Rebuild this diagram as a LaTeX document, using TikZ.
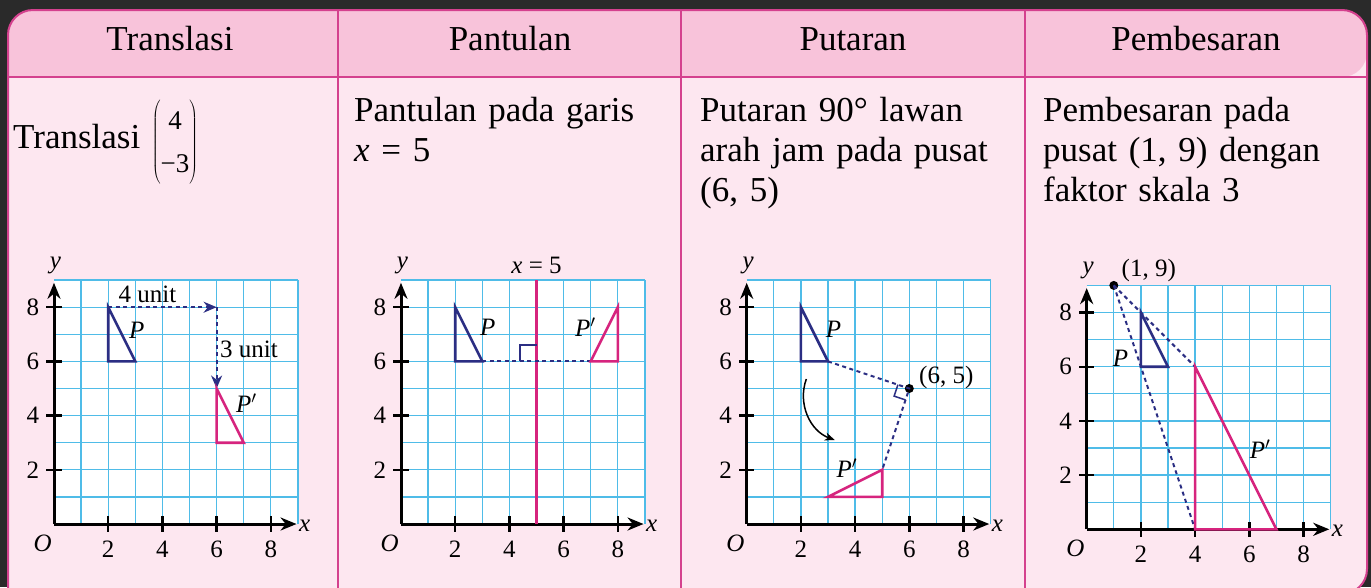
\documentclass[tikz,border=0pt]{standalone}
\usepackage{fontspec}
\setmainfont{Liberation Serif}
\usepackage{tikz}
\usetikzlibrary{positioning, calc, arrows.meta}
\newlength{\Unit}
\setlength\Unit{27.1pt}
\renewcommand{\arraystretch}{1.08}
\definecolor{navy}{HTML}{2B2E83}
\definecolor{rose}{HTML}{D6247E}
\definecolor{gridblue}{HTML}{4FBCE8}
\definecolor{headpink}{HTML}{F8C3DA}
\definecolor{bodypink}{HTML}{FDE7F0}
\definecolor{edgepink}{HTML}{D4418E}
\definecolor{backdrop}{HTML}{2A2A2A}

\begin{document}
\begin{tikzpicture}[
    x = 1pt, y = -1pt, > = {Stealth[]},
    head/.style = {
      font = \fontsize{35}{40}\selectfont, inner sep = 0pt, anchor = base
    },
    body/.style = {
      font = \fontsize{35}{40}\selectfont, inner sep = 0pt,
      anchor = base west, text width = 320pt, align = left
    },
    panel/.style 2 args = {
      shift = {(#1,#2)}, x = \Unit, y = \Unit
    },
    gridline/.style = {
      draw = gridblue, line width = 1.3pt
    },
    axis/.style = {
      line width = 3pt, -{Stealth[length = 16pt, width = 13pt]}
    },
    tickmark/.style = {
      line width = 2.4pt
    },
    num/.style = {
      font = \fontsize{25}{29}\selectfont, inner sep = 0pt
    },
    object/.style = {
      draw = navy, line width = 2.6pt
    },
    imagetri/.style = {
      draw = rose, line width = 2.6pt
    },
    guide/.style = {
      draw = navy, line width = 2pt, dash pattern = on 4pt off 3.5pt,
      > = {Stealth[length = 13pt, width = 11pt]}
    },
    centre/.style = {
      circle, fill = black, inner sep = 0pt, minimum size = 9pt
    },
    ]

    % frame of the table
    \useasboundingbox  (0,0)  rectangle  (1371,587);
    \clip  (0,0)  rectangle  (1371,587);
    \fill  [backdrop]  (0,0)  rectangle  (1371,587);
    \fill  [bodypink]  (8,594)  [rounded corners = 25pt]  -- (8,10) -- (1367,10) -- (1367,594) -- (600,594)  [sharp corners]  -- cycle;
    \fill  [headpink]  (8,77)  [rounded corners = 25pt]  -- (8,10) -- (1367,10) -- (1367,77)  [sharp corners]  -- cycle;
    \draw  [edgepink, line width = 2pt]  (8,594)  [rounded corners = 25pt]  -- (8,10) -- (1367,10) -- (1367,594) -- (600,594)  [sharp corners]  -- cycle;
    \draw  [edgepink, line width = 2pt]  (8,77) -- (1367,77);
    \foreach \c in {338, 681, 1025}
    \draw  [edgepink, line width = 2pt]  (\c,10) -- (\c,600);

    % headers
    \node  [head]  (h1)  at  (170,50.7)  {Translasi};
    \node  [head]  (h2)  at  (510,50.7)  {Pantulan};
    \node  [head]  (h3)  at  (853,50.7)  {Putaran};
    \node  [head]  (h4)  at  (1196,50.7)  {Pembesaran};

    % descriptions
    \node  [body]  (t1)  at  (13,148.3)  {Translasi $\left(\begin{array}{@{}c@{}}\mbox{\fontsize{27}{30}\selectfont 4}\\ \mbox{\fontsize{27}{30}\selectfont −3}\end{array}\right)$};
    \node  [body]  (t2)  at  (354,121.7)  {Pantulan pada garis\\ \textit{x} = 5};
    \node  [body]  (t3)  at  (700,121.7)  {Putaran 90° lawan\\ arah jam pada pusat\\ (6, 5)};
    \node  [body]  (t4)  at  (1043,121.7)  {Pembesaran pada\\ pusat (1, 9) dengan\\ faktor skala 3};

    % draw the four grids with axes
    \foreach \i/\ox/\oy in {1/54/524, 2/401/524, 3/746.7/524, 4/1086.7/529.3} {
      \begin{scope}[panel = {\ox}{\oy}]
        \fill  [white]  (0,0)  rectangle  (9,9);
        \foreach \k in {1, ..., 9} {
          \draw  [gridline]  (\k,0) -- (\k,9);
          \draw  [gridline]  (0,\k) -- (9,\k);
        }
        \coordinate  (O\i)  at  (0,0);
        \coordinate  (xend\i)  at  (8.95,0);
        \coordinate  (yend\i)  at  (0,8.9);
        \draw  [axis]  (O\i) -- (xend\i);
        \draw  [axis]  (O\i) -- (yend\i);
        \foreach \k in {2, 4, 6, 8} {
          \draw  [tickmark]  (\k,-0.28) -- (\k,0.28);
          \draw  [tickmark]  (-0.28,\k) -- (0.28,\k);
          \node  [num]  (xn\i\k)  at  (\k,-0.92)  {\k};
          \node  [num]  (yn\i\k)  at  (-0.78,\k)  {\k};
        }
        \node  [num]  (o\i)  at  (-0.42,-0.7)  {\textit{O}};
        \node  [num]  (xl\i)  at  (9.25,-0.05)  {\textit{x}};
        \node  [num]  (yl\i)  at  (0.05,9.55)  {\textit{y}};
      \end{scope}
    }

    % translation
    \begin{scope}[panel = {54}{524}]
      \coordinate  (a1)  at  (2,8);
      \coordinate  (b1)  at  (2,6);
      \coordinate  (c1)  at  (3,6);
      \coordinate  (pa1)  at  (6,5);
      \coordinate  (pb1)  at  (6,3);
      \coordinate  (pc1)  at  (7,3);
      \coordinate  (bend1)  at  (6,8);
      \draw  [guide, ->]  (a1) -- (bend1);
      \draw  [guide, ->]  (bend1) -- (pa1);
      \draw  [object]  (a1) -- (b1) -- (c1) -- cycle;
      \draw  [imagetri]  (pa1) -- (pb1) -- (pc1) -- cycle;
      \node  [num]  (u4)  at  (3.45,8.48)  {4 unit};
      \node  [num, anchor = west]  (u3)  at  (6.12,6.45)  {3 unit};
      \node  [num]  (P1)  at  (3.05,7.15)  {\textit{P}};
      \node  [num]  (Q1)  at  (7.1,4.45)  {\textit{P}$'$};
    \end{scope}

    % reflection
    \begin{scope}[panel = {401}{524}]
      \coordinate  (a2)  at  (2,8);
      \coordinate  (b2)  at  (2,6);
      \coordinate  (c2)  at  (3,6);
      \coordinate  (pa2)  at  (8,8);
      \coordinate  (pb2)  at  (8,6);
      \coordinate  (pc2)  at  (7,6);
      \coordinate  (m2a)  at  (5,0);
      \coordinate  (m2b)  at  (5,9);
      \coordinate  (foot2)  at  (5,6);
      \draw  [draw = rose, line width = 2.6pt]  (m2a) -- (m2b);
      \draw  [guide]  (c2) -- (pc2);
      \draw  [draw = navy, line width = 1.5pt]  ($(foot2)+(-0.6,0)$) -- ($(foot2)+(-0.6,0.6)$) -- ($(foot2)+(0,0.6)$);
      \draw  [object]  (a2) -- (b2) -- (c2) -- cycle;
      \draw  [imagetri]  (pa2) -- (pb2) -- (pc2) -- cycle;
      \node  [num]  (eq2)  at  (5,9.55)  {\textit{x} = 5};
      \node  [num]  (P2)  at  (3.2,7.25)  {\textit{P}};
      \node  [num]  (Q2)  at  (6.8,7.25)  {\textit{P}$'$};
    \end{scope}

    % rotation
    \begin{scope}[panel = {746.7}{524}]
      \coordinate  (a3)  at  (2,8);
      \coordinate  (b3)  at  (2,6);
      \coordinate  (c3)  at  (3,6);
      \coordinate  (pa3)  at  (3,1);
      \coordinate  (pb3)  at  (5,1);
      \coordinate  (pc3)  at  (5,2);
      \node  [centre]  (cen3)  at  (6,5)  {};
      \coordinate  (r3a)  at  ($(cen3)!0.14!(c3)$);
      \coordinate  (r3b)  at  ($(cen3)!0.14!(pc3)$);
      \draw  [guide]  (c3) -- (cen3.center) -- (pc3);
      \draw  [draw = navy, line width = 1.5pt]  (r3a) -- ($(r3a)+(r3b)-(cen3)$) -- (r3b);
      \draw  [object]  (a3) -- (b3) -- (c3) -- cycle;
      \draw  [imagetri]  (pa3) -- (pb3) -- (pc3) -- cycle;
      \coordinate  (s3)  at  (2.2,5.35);
      \coordinate  (e3)  at  (3.25,3.1);
      \draw  [line width = 1.5pt, -{Stealth[length = 10pt, width = 8pt]}]  (s3)  to [bend right = 45]  (e3);
      \node  [num, right = 5pt of cen3, yshift = 11pt]  (lc3)  {(6, 5)};
      \node  [num]  (P3)  at  (3.2,7.2)  {\textit{P}};
      \node  [num]  (Q3)  at  (3.7,2.05)  {\textit{P}$'$};
    \end{scope}

    % enlargement
    \begin{scope}[panel = {1086.7}{529.3}]
      \coordinate  (a4)  at  (2,8);
      \coordinate  (b4)  at  (2,6);
      \coordinate  (c4)  at  (3,6);
      \coordinate  (pa4)  at  (4,6);
      \coordinate  (pb4)  at  (4,0);
      \coordinate  (pc4)  at  (7,0);
      \node  [centre]  (cen4)  at  (1,9)  {};
      \draw  [guide]  (cen4.center) -- (pa4);
      \draw  [guide]  (cen4.center) -- (pb4);
      \draw  [object]  (a4) -- (b4) -- (c4) -- cycle;
      \draw  [imagetri]  (pa4) -- (pb4) -- (pc4) -- cycle;
      \node  [num, right = 3pt of cen4, yshift = 15pt]  (lc4)  {(1, 9)};
      \node  [num]  (P4)  at  (1.25,6.3)  {\textit{P}};
      \node  [num]  (Q4)  at  (6.4,2.95)  {\textit{P}$'$};
    \end{scope}
\end{tikzpicture}
\end{document}
